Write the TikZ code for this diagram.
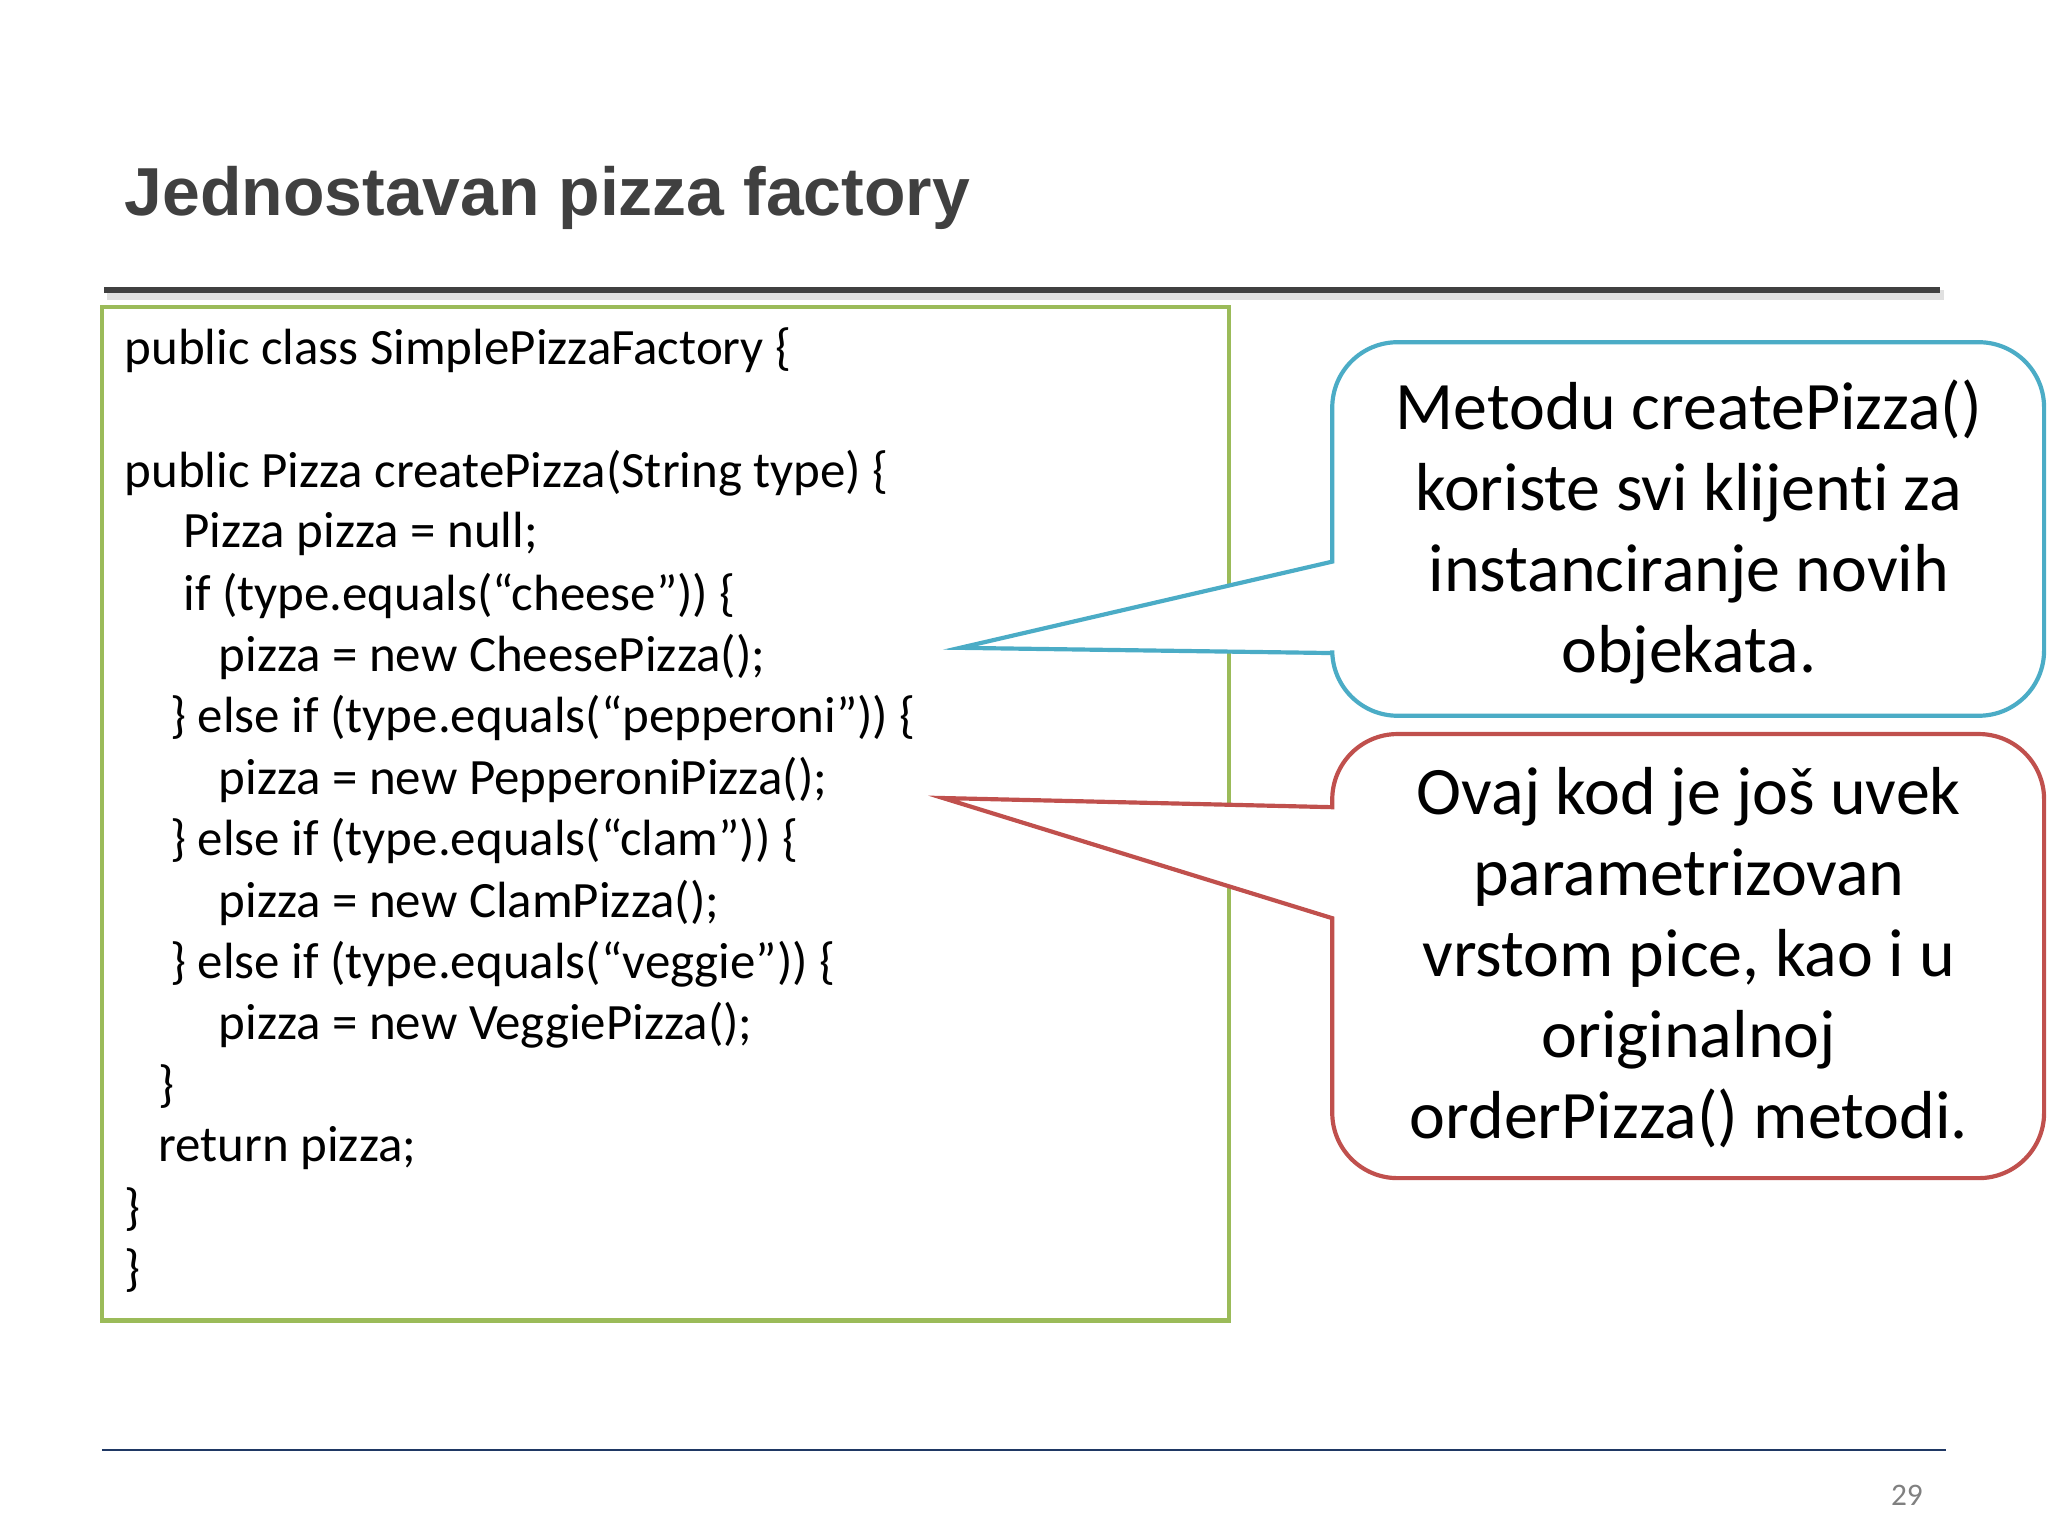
\documentclass[tikz,border=0pt]{standalone}
\usepackage{fontspec}
\setmainfont[Ligatures={NoCommon}]{Carlito}
\newfontfamily\titlefont{Liberation Sans}
\definecolor{titlegray}{HTML}{404040}
\definecolor{codegreen}{HTML}{9BBB59}
\definecolor{callblue}{HTML}{4BACC6}
\definecolor{callred}{HTML}{C0504D}
\definecolor{navy}{HTML}{1F3864}
\begin{document}
\begin{tikzpicture}[x=0.5pt,y=-0.5pt,
  code/.style={anchor=west,inner sep=0pt,font=\fontsize{19.5}{23}\selectfont},
  calltext/.style={align=center,font=\fontsize{26}{31}\selectfont,inner sep=0pt}]
\useasboundingbox (0,0) rectangle (1568,1176);
\node[anchor=base west,inner sep=0pt,text=titlegray,font=\titlefont\bfseries\fontsize{26}{30}\selectfont] (title) at (95,165) {Jednostavan pizza factory};
\draw[line width=4pt,gray!40,opacity=0.6] (82,226) -- (1488,226);
\draw[line width=2.5pt,titlegray] (80,222) -- (1485,222);
\draw[codegreen,line width=1.6pt] (78,235) rectangle (941,1011);
\node[code] (l1) at (95,268) {public class SimplePizzaFactory \{};
\node[code] (l2) at (95,362) {public Pizza createPizza(String type) \{};
\node[code] (l3) at (140,409) {Pizza pizza = null;};
\node[code] (l4) at (140,456) {if (type.equals(“cheese”)) \{};
\node[code] (l5) at (167,503) {pizza = new CheesePizza();};
\node[code] (l6) at (130,550) {\} else if (type.equals(“pepperoni”)) \{};
\node[code] (l7) at (167,597) {pizza = new PepperoniPizza();};
\node[code] (l8) at (130,644) {\} else if (type.equals(“clam”)) \{};
\node[code] (l9) at (167,691) {pizza = new ClamPizza();};
\node[code] (l10) at (130,738) {\} else if (type.equals(“veggie”)) \{};
\node[code] (l11) at (167,785) {pizza = new VeggiePizza();};
\node[code] (l12) at (121,832) {\}};
\node[code] (l13) at (121,879) {return pizza;};
\node[code] (l14) at (95,926) {\}};
\node[code] (l15) at (95,973) {\}};
% blue callout
\draw[callblue,line width=1.6pt,fill=white] (1020,430) -- (735,496) -- (1020,500)
  [rounded corners=25pt] -- (1020,548) -- (1565,548) -- (1565,262) -- (1020,262) [sharp corners] -- cycle;
\node[calltext] (c1) at (1293,407) {Metodu createPizza()\\koriste svi klijenti za\\instanciranje novih\\objekata.};
% red callout
\draw[callred,line width=1.6pt,fill=white] (1020,618) -- (722,611) -- (1020,703)
  [rounded corners=25pt] -- (1020,902) -- (1565,902) -- (1565,562) -- (1020,562) [sharp corners] -- cycle;
\node[calltext] (c2) at (1293,733) {Ovaj kod je još uvek\\parametrizovan\\vrstom pice, kao i u\\originalnoj\\orderPizza() metodi.};
\draw[navy,line width=0.8pt] (78,1110) -- (1490,1110);
\node[text=gray,font=\fontsize{12}{14}\selectfont,inner sep=0pt] (pg) at (1460,1145) {29};
\end{tikzpicture}
\end{document}
